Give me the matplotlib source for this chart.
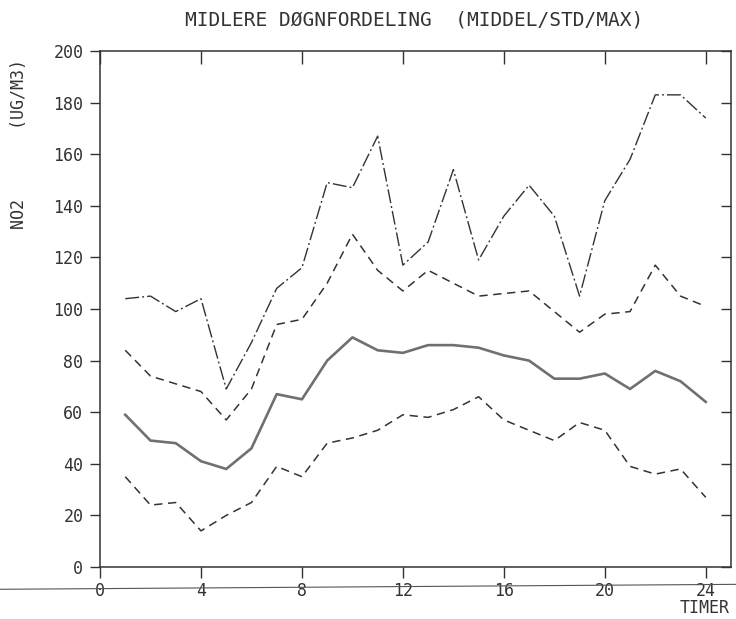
import numpy as np
import matplotlib
matplotlib.use('Agg')
import matplotlib.pyplot as plt
from matplotlib.lines import Line2D

plt.rcParams['font.family'] = ['DejaVu Sans Mono', 'DejaVu Sans']
plt.rcParams['lines.scale_dashes'] = False

hours = list(range(1, 25))
no2_max = [104, 105, 99, 104, 69, 87, 108, 116, 149, 147, 167, 117,
           126, 154, 119, 136, 148, 136, 105, 142, 158, 183, 183, 174]
no2_std_hi = [84, 74, 71, 68, 57, 69, 94, 96, 110, 129, 115, 107,
              115, 110, 105, 106, 107, 99, 91, 98, 99, 117, 105, 101]
no2_mean = [59, 49, 48, 41, 38, 46, 67, 65, 80, 89, 84, 83,
            86, 86, 85, 82, 80, 73, 73, 75, 69, 76, 72, 64]
no2_std_lo = [35, 24, 25, 14, 20, 25, 39, 35, 48, 50, 53, 59,
              58, 61, 66, 57, 53, 49, 56, 53, 39, 36, 38, 27]

xticks = [0, 4, 8, 12, 16, 20, 24]
yticks = list(range(0, 201, 20))

ink = '#333333'

fig = plt.figure(figsize=(7.36, 6.19), dpi=100)
ax = fig.add_axes([0.1359, 0.0840, 0.8573, 0.8336])

ax.plot(hours, no2_max, color=ink, lw=1.0, linestyle=(0, (10, 2.2, 1.4, 2.2)))
ax.plot(hours, no2_std_hi, color=ink, lw=1.1, linestyle=(0, (6, 4)))
ax.plot(hours, no2_mean, color='#707070', lw=1.9, solid_joinstyle='round')
ax.plot(hours, no2_std_lo, color=ink, lw=1.1, linestyle=(0, (6, 4)))

ax.set_xlim(0, 25)
ax.set_ylim(0, 200)

for s in ax.spines.values():
    s.set_color(ink)
    s.set_linewidth(1.1)

ax.set_xticks(xticks)
ax.set_yticks(yticks)
ax.tick_params(axis='x', direction='out', length=8, width=1, color=ink,
               labelcolor=ink, labelsize=12, pad=3, top=True)
ax.tick_params(axis='y', direction='out', length=7, width=1, color=ink,
               labelcolor=ink, labelsize=12, pad=5, right=True)

# inward ticks on the top and right edges
for t in ax.xaxis.get_major_ticks():
    t.tick2line.set_marker(matplotlib.markers.TICKDOWN)
    t.tick2line.set_markersize(9)
for t in ax.yaxis.get_major_ticks():
    t.tick2line.set_marker(matplotlib.markers.TICKLEFT)
    t.tick2line.set_markersize(7)

fig.text(0.562, 0.967, 'MIDLERE DØGNFORDELING  (MIDDEL/STD/MAX)',
         ha='center', va='center', fontsize=14, color=ink)
fig.text(0.026, 0.767, 'NO2       (UG/M3)', rotation=90,
         ha='center', va='center', fontsize=12, color=ink)
fig.text(0.991, 0.018, 'TIMER', ha='right', va='center', fontsize=12, color=ink)

# stray pen stroke running across the hour labels
fig.add_artist(Line2D([0.0, 1.0], [0.048, 0.056], transform=fig.transFigure,
                      color='#555555', lw=0.8))

fig.savefig('out.png', dpi=100)
